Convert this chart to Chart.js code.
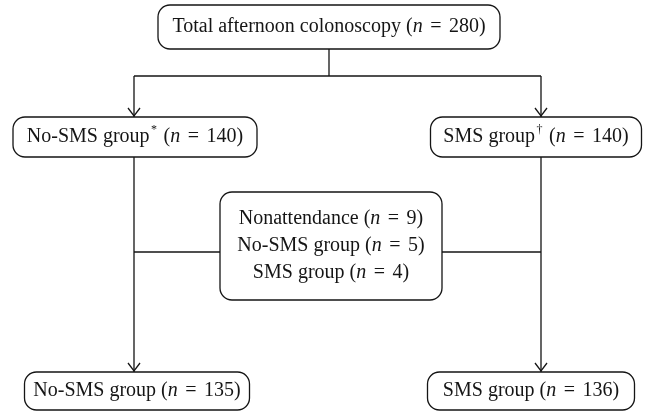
<!DOCTYPE html>
<html>
<head>
<meta charset="utf-8">
<script src="https://cdn.jsdelivr.net/npm/chart.js@4"></script>
<style>
  html, body { margin: 0; padding: 0; background: #fff; }
  #chart { display: block; }
</style>
</head>
<body>
<canvas id="chart" width="653" height="413"></canvas>
<script>
// flowchart nodes: label text, _x_ = italic, ^x^ = superscript
const boxLabels = [
    ["Total afternoon colonoscopy (_n_ = 280)"],
    ["No-SMS group^*^ (_n_ = 140)"],
    ["SMS group^\u2020^ (_n_ = 140)"],
    ["Nonattendance (_n_ = 9)", "No-SMS group (_n_ = 5)", "SMS group (_n_ = 4)"],
    ["No-SMS group (_n_ = 135)"],
    ["SMS group (_n_ = 136)"]
]
// node centres in chart units
const boxX = [329, 135, 536, 331, 137, 531]
const boxY = [27, 137, 137, 246, 391, 391]
// node extents
const boxW = [342, 244, 211, 222, 225, 207]
const boxH = [44, 40, 40, 108, 38, 38]

const colX = [134, 541]
const splitY = 76
const crossY = 252

function seg(x1, y1, x2, y2) {
    return [{x: x1, y: y1}, {x: x2, y: y2}]
}

function boxTop(i) { return boxY[i] - boxH[i] / 2 }
function boxBottom(i) { return boxY[i] + boxH[i] / 2 }
function boxLeft(i) { return boxX[i] - boxW[i] / 2 }
function boxRight(i) { return boxX[i] + boxW[i] / 2 }

const lines = [
    {pts: seg(boxX[0], boxBottom(0), boxX[0], splitY), arrow: false},
    {pts: seg(colX[0], splitY, colX[1], splitY), arrow: false},
    {pts: seg(colX[0], splitY, colX[0], boxTop(1)), arrow: true},
    {pts: seg(colX[1], splitY, colX[1], boxTop(2)), arrow: true},
    {pts: seg(colX[0], boxBottom(1), colX[0], boxTop(4)), arrow: true},
    {pts: seg(colX[1], boxBottom(2), colX[1], boxTop(5)), arrow: true},
    {pts: seg(colX[0], crossY, boxLeft(3), crossY), arrow: false},
    {pts: seg(boxRight(3), crossY, colX[1], crossY), arrow: false}
]

const ink = "#151515"
const fontFam = "'Liberation Serif', 'DejaVu Serif', serif"
const fontSize = 20

function parseLabel(s) {
    let parts = []
    let re = /(_[^_]+_|\^[^^]+\^|=)/g
    let last = 0, m
    while ((m = re.exec(s)) !== null) {
        if (m.index > last) parts.push({t: s.slice(last, m.index), k: "n"})
        let tok = m[0]
        if (tok == "=") parts.push({t: "=", k: "e"})
        else parts.push({t: tok.slice(1, -1), k: tok[0] == "_" ? "i" : "s"})
        last = m.index + tok.length
    }
    if (last < s.length) parts.push({t: s.slice(last), k: "n"})
    return parts
}

function fontFor(k) {
    if (k == "i") return "italic " + fontSize + "px " + fontFam
    if (k == "s") return (fontSize * 0.6) + "px " + fontFam
    return fontSize + "px " + fontFam
}

function padFor(k) {
    if (k == "s") return 1.5
    if (k == "e") return 2.5
    return 0
}

function drawLabel(ctx, s, cx, cy) {
    let parts = parseLabel(s)
    let w = 0
    parts.forEach(p => { ctx.font = fontFor(p.k); p.w = ctx.measureText(p.t).width + 2 * padFor(p.k); w += p.w })
    let x = cx - w / 2
    ctx.textBaseline = "middle"
    ctx.textAlign = "left"
    parts.forEach(p => {
        ctx.font = fontFor(p.k)
        ctx.fillText(p.t, x + padFor(p.k), p.k == "s" ? cy - fontSize * 0.36 : cy)
        x += p.w
    })
}

const flowPlugin = {
    id: "flow",
    afterDatasetsDraw(chart) {
        const ctx = chart.ctx
        const xs = chart.scales.x, ys = chart.scales.y
        ctx.save()
        ctx.strokeStyle = ink
        ctx.fillStyle = ink
        ctx.lineWidth = 1.3
        // arrow heads
        lines.forEach(l => {
            if (!l.arrow) return
            let p = l.pts[1]
            let px = xs.getPixelForValue(p.x), py = ys.getPixelForValue(p.y)
            ctx.beginPath()
            ctx.moveTo(px - 6, py - 9)
            ctx.lineTo(px, py - 1)
            ctx.lineTo(px + 6, py - 9)
            ctx.stroke()
        })
        // boxes
        boxLabels.forEach((lab, i) => {
            let x1 = xs.getPixelForValue(boxLeft(i)), x2 = xs.getPixelForValue(boxRight(i))
            let y1 = ys.getPixelForValue(boxTop(i)), y2 = ys.getPixelForValue(boxBottom(i))
            ctx.beginPath()
            ctx.roundRect(x1, y1, x2 - x1, y2 - y1, 12)
            ctx.fillStyle = "#fff"
            ctx.fill()
            ctx.stroke()
            ctx.fillStyle = ink
            let gap = 27
            let cy = ys.getPixelForValue(boxY[i]) - (lab.length - 1) * gap / 2
            lab.forEach((s, j) => drawLabel(ctx, s, xs.getPixelForValue(boxX[i]), cy + j * gap))
        })
        ctx.restore()
    }
}

const datasets = lines.map(l => ({
    data: l.pts,
    showLine: true,
    borderColor: ink,
    borderWidth: 1.3,
    pointRadius: 0,
    fill: false
}))

new Chart(document.getElementById("chart").getContext("2d"), {
    type: "scatter",
    data: { datasets },
    options: {
        responsive: false,
        animation: false,
        layout: { padding: 0 },
        plugins: { legend: { display: false }, tooltip: { enabled: false } },
        scales: {
            x: { type: "linear", min: 0, max: 653, display: false },
            y: { type: "linear", min: 0, max: 413, reverse: true, display: false }
        }
    },
    plugins: [flowPlugin]
})
</script>
</body>
</html>
